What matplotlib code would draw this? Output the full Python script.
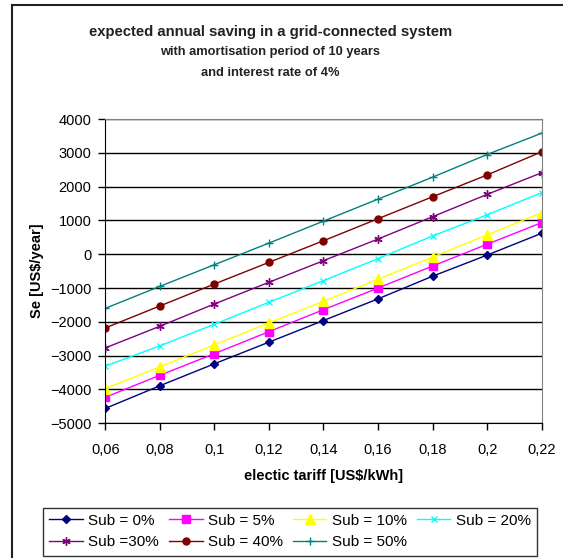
import matplotlib.pyplot as plt
from matplotlib.lines import Line2D

plt.rcParams['font.family'] = ['Liberation Sans', 'DejaVu Sans']

# electricity tariff in US$/kWh
tariff = [0.06, 0.08, 0.10, 0.12, 0.14, 0.16, 0.18, 0.20, 0.22]
tick_labels = ['0,06', '0,08', '0,1', '0,12', '0,14', '0,16', '0,18', '0,2', '0,22']

# expected annual saving Se [US$/year] per subsidy level
sub_0 = [-4560, -3890, -3240, -2600, -1960, -1320, -650, -25, 620]
sub_5 = [-4230, -3580, -2940, -2290, -1640, -1000, -350, 295, 935]
sub_10 = [-3975, -3330, -2680, -2030, -1390, -740, -85, 570, 1230]
sub_20 = [-3310, -2710, -2070, -1420, -780, -130, 540, 1165, 1820]
sub_30 = [-2770, -2130, -1470, -830, -190, 450, 1110, 1770, 2410]
sub_40 = [-2180, -1530, -880, -240, 400, 1050, 1700, 2345, 3030]
sub_50 = [-1600, -950, -310, 330, 980, 1630, 2280, 2950, 3580]

series_labels = ['Sub = 0%', 'Sub = 5%', 'Sub = 10%', 'Sub = 20%',
                 'Sub =30%', 'Sub = 40%', 'Sub = 50%']
series = [sub_0, sub_5, sub_10, sub_20, sub_30, sub_40, sub_50]

# excel-ish default colours and markers
colors = ['#000080', '#ff00ff', '#ffff00', '#00ffff', '#800080', '#800000', '#008080']
markers = ['D', 's', '^', 'x', (6, 2, 0), 'o', '+']
msizes = [4.5, 6, 7, 5, 6, 5, 6]

fig = plt.figure(figsize=(5.63, 5.58), dpi=100)
ax = fig.add_axes([0.187, 0.2414, 0.775, 0.5453])

for vals, lab, c, m, ms in zip(series, series_labels, colors, markers, msizes):
    ax.plot(tariff, vals, color=c, marker=m, markersize=ms, linewidth=1,
            markeredgecolor=c, markeredgewidth=1, label=lab)

ax.set_xlim(0.06, 0.22)
ax.set_ylim(-5000, 4000)
ax.set_xticks(tariff)
ax.set_xticklabels(tick_labels)
ax.set_yticks(range(-5000, 4001, 1000))
ax.yaxis.grid(True, color='black', linewidth=1)
ax.set_axisbelow(True)
ax.tick_params(direction='out', length=5, width=1, color='black', labelsize=10.5)
ax.tick_params(axis='x', pad=9)
ax.tick_params(axis='y', pad=5)
for side in ['top', 'right']:
    ax.spines[side].set_color('#808080')
for side in ['left', 'bottom']:
    ax.spines[side].set_color('black')

ax.set_xlabel('electic tariff [US$/kWh]', fontsize=10.5, fontweight='bold', labelpad=9)
ax.set_ylabel('Se [US$/year]', fontsize=10.5, fontweight='bold', labelpad=4)

fig.text(0.48, 0.942, 'expected annual saving in a grid-connected system',
         ha='center', va='center', fontsize=10.7, fontweight='bold', color='#222222')
fig.text(0.48, 0.906, 'with amortisation period of 10 years',
         ha='center', va='center', fontsize=9.3, fontweight='bold', color='#222222')
fig.text(0.48, 0.870, 'and interest rate of 4%',
         ha='center', va='center', fontsize=9.3, fontweight='bold', color='#222222')

# outer chart frame (left and top edges visible)
fig.add_artist(Line2D([12 / 563, 12 / 563], [0, 1 - 5 / 558], color='#222222', linewidth=1.5))
fig.add_artist(Line2D([12 / 563, 1], [1 - 5 / 558, 1 - 5 / 558], color='#222222', linewidth=1.5))

handles, labels = ax.get_legend_handles_labels()
order = [0, 4, 1, 5, 2, 6, 3]
leg = fig.legend([handles[i] for i in order], [labels[i] for i in order],
                 ncol=4, loc='lower center', bbox_to_anchor=(290 / 563, 2.5 / 558),
                 fontsize=11, frameon=True, fancybox=False,
                 handlelength=2.2, handletextpad=0.35, columnspacing=0.65,
                 borderpad=0.4, labelspacing=0.5, borderaxespad=0)
leg.get_frame().set_edgecolor('black')
leg.get_frame().set_linewidth(1)

fig.savefig('out.png', dpi=100)
